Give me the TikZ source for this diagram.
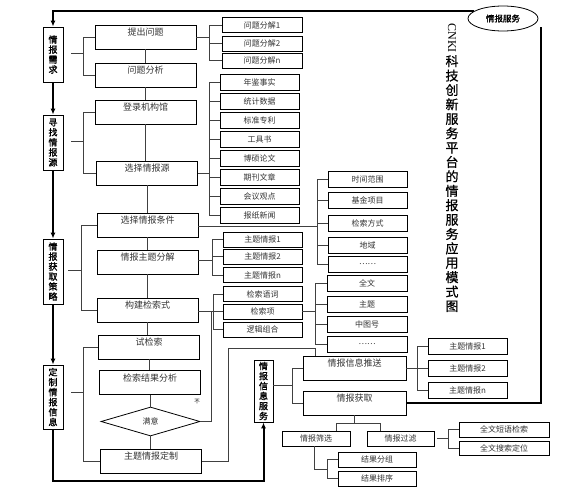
\documentclass[tikz,border=0pt]{standalone}
\usepackage{fontspec}
\setmainfont{Noto Sans CJK SC}
\newfontfamily\cjkb[FakeBold=1.6]{Noto Sans CJK SC}
\newfontfamily\cjkm[FakeBold=0.8]{Noto Sans CJK SC}
\newfontfamily\serifl{Liberation Serif}
\usetikzlibrary{shapes.geometric,arrows.meta,calc}
\begin{document}
\begin{tikzpicture}[x=1pt,y=-1pt,
 bigbox/.style={draw=black, line width=0.8pt, minimum width=101pt, minimum height=24pt, inner sep=0pt, text height=6.5pt, text depth=9pt, font=\fontsize{9pt}{10pt}\selectfont, text=black!80},
 smallbox/.style={draw=black, line width=0.8pt, minimum width=79pt, minimum height=15pt, inner sep=0pt, font=\fontsize{8pt}{9pt}\selectfont, text=black!80},
 labelbox/.style={draw=black, line width=0.9pt, minimum width=20pt, inner sep=0pt, align=center, font=\cjkb\fontsize{9pt}{10pt}\selectfont},
 conn/.style={draw=black!75, line width=0.8pt},
 heavy/.style={draw=black, line width=2pt},
 arr/.style={heavy, -{Latex[length=6pt,width=5pt]}}
]
\useasboundingbox (0,0) rectangle (575,500);

% main column
\node[bigbox] (p1) at (145.5,37) {提出问题};
\node[bigbox] (p2) at (145.5,75) {问题分析};
\node[bigbox] (p3) at (145.5,112) {登录机构馆};
\node[bigbox] (p4) at (147,173) {选择情报源};
\node[bigbox] (p5) at (147.5,225) {选择情报条件};
\node[bigbox] (p6) at (147.5,262) {情报主题分解};
\node[bigbox] (p7) at (147.5,310) {构建检索式};
\node[bigbox] (p8) at (149,347) {试检索};
\node[bigbox] (p9) at (150,382.5) {检索结果分析};
\node[diamond, draw=black, line width=0.8pt, minimum width=99pt, minimum height=29pt, inner sep=0pt, font=\fontsize{8pt}{9pt}\selectfont, text=black!80] (dia) at (150.5,421.5) {满意};
\node[bigbox] (p10) at (151,461) {主题情报定制};

% left labels
\node[labelbox, minimum height=55pt] (L1) at (53,54.5) {情\\报\\需\\求};
\node[labelbox, minimum height=55pt] (L2) at (53,142.5) {寻\\找\\情\\报\\源};
\node[labelbox, minimum height=65pt] (L3) at (53,271.5) {情\\报\\获\\取\\策\\略};
\node[labelbox, minimum height=64pt] (L4) at (53,397) {定\\制\\情\\报\\信\\息};
\node[labelbox, minimum height=62pt, minimum width=19pt] (L5) at (263.5,391) {情\\报\\信\\息\\服\\务};

% group A
\node[smallbox, minimum width=80pt] (a1) at (262,25) {问题分解1};
\node[smallbox, minimum width=80pt] (a2) at (262,43.5) {问题分解2};
\node[smallbox, minimum width=80pt] (a3) at (262,60.5) {问题分解n};
% group B
\node[smallbox, minimum height=16pt] (b1) at (259.5,82) {年鉴事实};
\node[smallbox, minimum height=16pt] (b2) at (259.5,101) {统计数据};
\node[smallbox, minimum height=16pt] (b3) at (259.5,120) {标准专利};
\node[smallbox, minimum height=16pt] (b4) at (259.5,139) {工具书};
\node[smallbox, minimum height=16pt] (b5) at (259.5,158) {博硕论文};
\node[smallbox, minimum height=16pt] (b6) at (259.5,177) {期刊文章};
\node[smallbox, minimum height=16pt] (b7) at (259.5,196) {会议观点};
\node[smallbox, minimum height=16pt] (b8) at (259.5,215) {报纸新闻};
% group C
\node[smallbox, minimum height=16pt] (c1) at (367.5,179) {时间范围};
\node[smallbox, minimum height=16pt] (c2) at (367.5,200.5) {基金项目};
\node[smallbox, minimum height=16pt] (c3) at (367.5,223) {检索方式};
\node[smallbox, minimum height=16pt] (c4) at (367.5,245.5) {地域};
\node[smallbox, minimum height=16pt] (c5) at (367.5,264.5) {……};
% group D
\node[smallbox] (d1) at (262.5,239.5) {主题情报1};
\node[smallbox] (d2) at (262.5,256.5) {主题情报2};
\node[smallbox] (d3) at (262.5,275) {主题情报n};
% group E
\node[smallbox] (e1) at (262.5,294) {检索语词};
\node[smallbox] (e2) at (262.5,311.5) {检索项};
\node[smallbox] (e3) at (262.5,329.5) {逻辑组合};
% group F
\node[smallbox, minimum width=80pt, minimum height=16pt] (f1) at (367,283) {全文};
\node[smallbox, minimum width=80pt, minimum height=16pt] (f2) at (367,304) {主题};
\node[smallbox, minimum width=80pt, minimum height=16pt] (f3) at (367,324) {中图号};
\node[smallbox, minimum width=80pt, minimum height=16pt] (f4) at (367,344.5) {……};
% service part
\node[bigbox, minimum width=103pt] (push) at (354.5,368) {情报信息推送};
\node[bigbox, minimum width=103pt] (get) at (354.5,403) {情报获取};
\node[smallbox, minimum height=16pt] (g1) at (467.5,346.5) {主题情报1};
\node[smallbox, minimum height=16pt] (g2) at (467.5,368) {主题情报2};
\node[smallbox, minimum height=16pt] (g3) at (467.5,390) {主题情报n};
\node[smallbox, minimum width=68pt] (sx) at (316,438.5) {情报筛选};
\node[smallbox, minimum width=67pt] (gl) at (400.5,438.5) {情报过滤};
\node[smallbox, minimum width=90pt] (q1) at (504,429.5) {全文短语检索};
\node[smallbox, minimum width=90pt, minimum height=14pt] (q2) at (504,448) {全文搜索定位};
\node[smallbox, minimum width=78pt] (r1) at (377,459.5) {结果分组};
\node[smallbox, minimum width=78pt] (r2) at (377,478.5) {结果排序};

% ellipse and title
\node[ellipse, draw=black, line width=0.8pt, minimum width=70pt, minimum height=25pt, inner sep=0pt, font=\cjkb\fontsize{8.5pt}{9pt}\selectfont] (ell) at (503,18.5) {情报服务};
\node[font=\serifl\fontsize{12pt}{12pt}\selectfont, rotate=-90, inner sep=0pt] (cnki) at (452,38) {CNKI};
\node[anchor=north, align=center, inner sep=0pt, font=\cjkm\fontsize{13pt}{14.4pt}\selectfont] (title) at (452,55) {科\\技\\创\\新\\服\\务\\平\\台\\的\\情\\报\\服\\务\\应\\用\\模\\式\\图};

% vertical chain
\foreach \a/\b in {p1/p2,p2/p3,p3/p4,p4/p5,p5/p6,p6/p7,p7/p8,p8/p9,p9/dia,dia/p10}
  \draw[conn] (\a.south) -- (\a.south |- \b.north);

% left brackets
\coordinate (t1) at ($(L1.east)+(20,-1.5)$);
\draw[conn] ($(L1.east)+(8,-1.5)$) -- (t1);
\foreach \nn in {p1,p2} \draw[conn] (t1) |- (\nn.west);
\coordinate (t2) at ($(L2.east)+(20,-1.5)$);
\draw[conn] ($(L2.east)+(8,-1.5)$) -- (t2);
\foreach \nn in {p3,p4} \draw[conn] (t2) |- (\nn.west);
\coordinate (t3) at ($(L3.east)+(18,-1.5)$);
\draw[conn] ($(L3.east)+(5,-1.5)$) -- (t3);
\foreach \nn in {p5,p7} \draw[conn] (t3) |- (\nn.west);
\coordinate (t4) at ($(L4.east)+(20,-5)$);
\draw[conn] ($(L4.east)+(8,-5)$) -- (t4);
\foreach \nn in {p8,p10} \draw[conn] (t4) |- (\nn.west);
\coordinate (t5) at ($(L5.east)+(19,-6)$);
\draw[conn] ($(L5.east)+(0,-6)$) -- (t5);
\foreach \nn in {push,get} \draw[conn] (t5) |- (\nn.west);

% right brackets
\coordinate (s1) at ($(p1.east)+(13,0)$);
\draw[conn] (p1.east) -- (s1);
\foreach \nn in {a1,a2,a3} \draw[conn] (s1) |- (\nn.west);
\coordinate (s2) at ($(p4.east)+(11,0)$);
\draw[conn] (p4.east) -- (s2);
\foreach \nn in {b1,b2,b3,b4,b5,b6,b7,b8} \draw[conn] (s2) |- (\nn.west);
\coordinate (s3) at ($(p5.east)+(119,1)$);
\draw[conn] ($(p5.east)+(0,1)$) -- (s3);
\foreach \nn in {c1,c2,c3,c4,c5} \draw[conn] (s3) |- (\nn.west);
\coordinate (s4) at ($(p6.east)+(14,-2)$);
\draw[conn] ($(p6.east)+(0,-2)$) -- (s4);
\foreach \nn in {d1,d2,d3} \draw[conn] (s4) |- (\nn.west);
\coordinate (s5) at ($(p7.east)+(15,1)$);
\draw[conn] ($(p7.east)+(0,1)$) -- (s5);
\foreach \nn in {e1,e2,e3} \draw[conn] (s5) |- (\nn.west);
\coordinate (s6) at ($(e2.east)+(13,0)$);
\draw[conn] (e2.east) -- (s6);
\foreach \nn in {f1,f2,f3,f4} \draw[conn] (s6) |- (\nn.west);
\coordinate (s7) at ($(push.east)+(11,0)$);
\draw[conn] (push.east) -- (s7);
\foreach \nn in {g1,g2,g3} \draw[conn] (s7) |- (\nn.west);
\coordinate (s8) at ($(gl.east)+(14,0)$);
\draw[conn] ($(gl.east)+(3,0)$) -- (s8);
\foreach \nn in {q1,q2} \draw[conn] (s8) |- (\nn.west);
\draw[conn] ($(sx.south)+(-2,0)$) |- ($(sx.south)+(11,23)$) coordinate (s9);
\foreach \nn in {r1,r2} \draw[conn] (s9) |- (\nn.west);

% 情报获取 to 筛选 / 过滤
\draw[conn] (get.south) -- ++(0,8) -| ($(sx.north)+(20,0)$);
\draw[conn] (get.south) -- ++(0,8) -| ($(gl.north)+(-20,0)$);

% not satisfied loop
\draw[conn] (dia.east) -- ++(10.5,0) |- ($(p7.east)+(0,1)$);
\node[font=\fontsize{5.5pt}{6pt}\selectfont, inner sep=0pt] (bu) at (197,402) {不};

% customised info to push
\coordinate (k) at ($(push.north west)+(13,0)$);
\draw[conn] (p10.east) -- ++(26,0) |- ($(k)+(0,-7)$) -- (k);

% heavy lines
\draw[arr] (ell.165) -| (L1.north);
\draw[arr] (L1.south) -- (L2.north);
\draw[arr] (L2.south) -- (L3.north);
\draw[arr] (L3.south) -- (L4.north);
\draw[arr] (L4.south) -- ++(0,52) -| (L5.south);
\draw[heavy] (get.east) -| ($(ell.east)+(3,9)$);
\end{tikzpicture}
\end{document}
